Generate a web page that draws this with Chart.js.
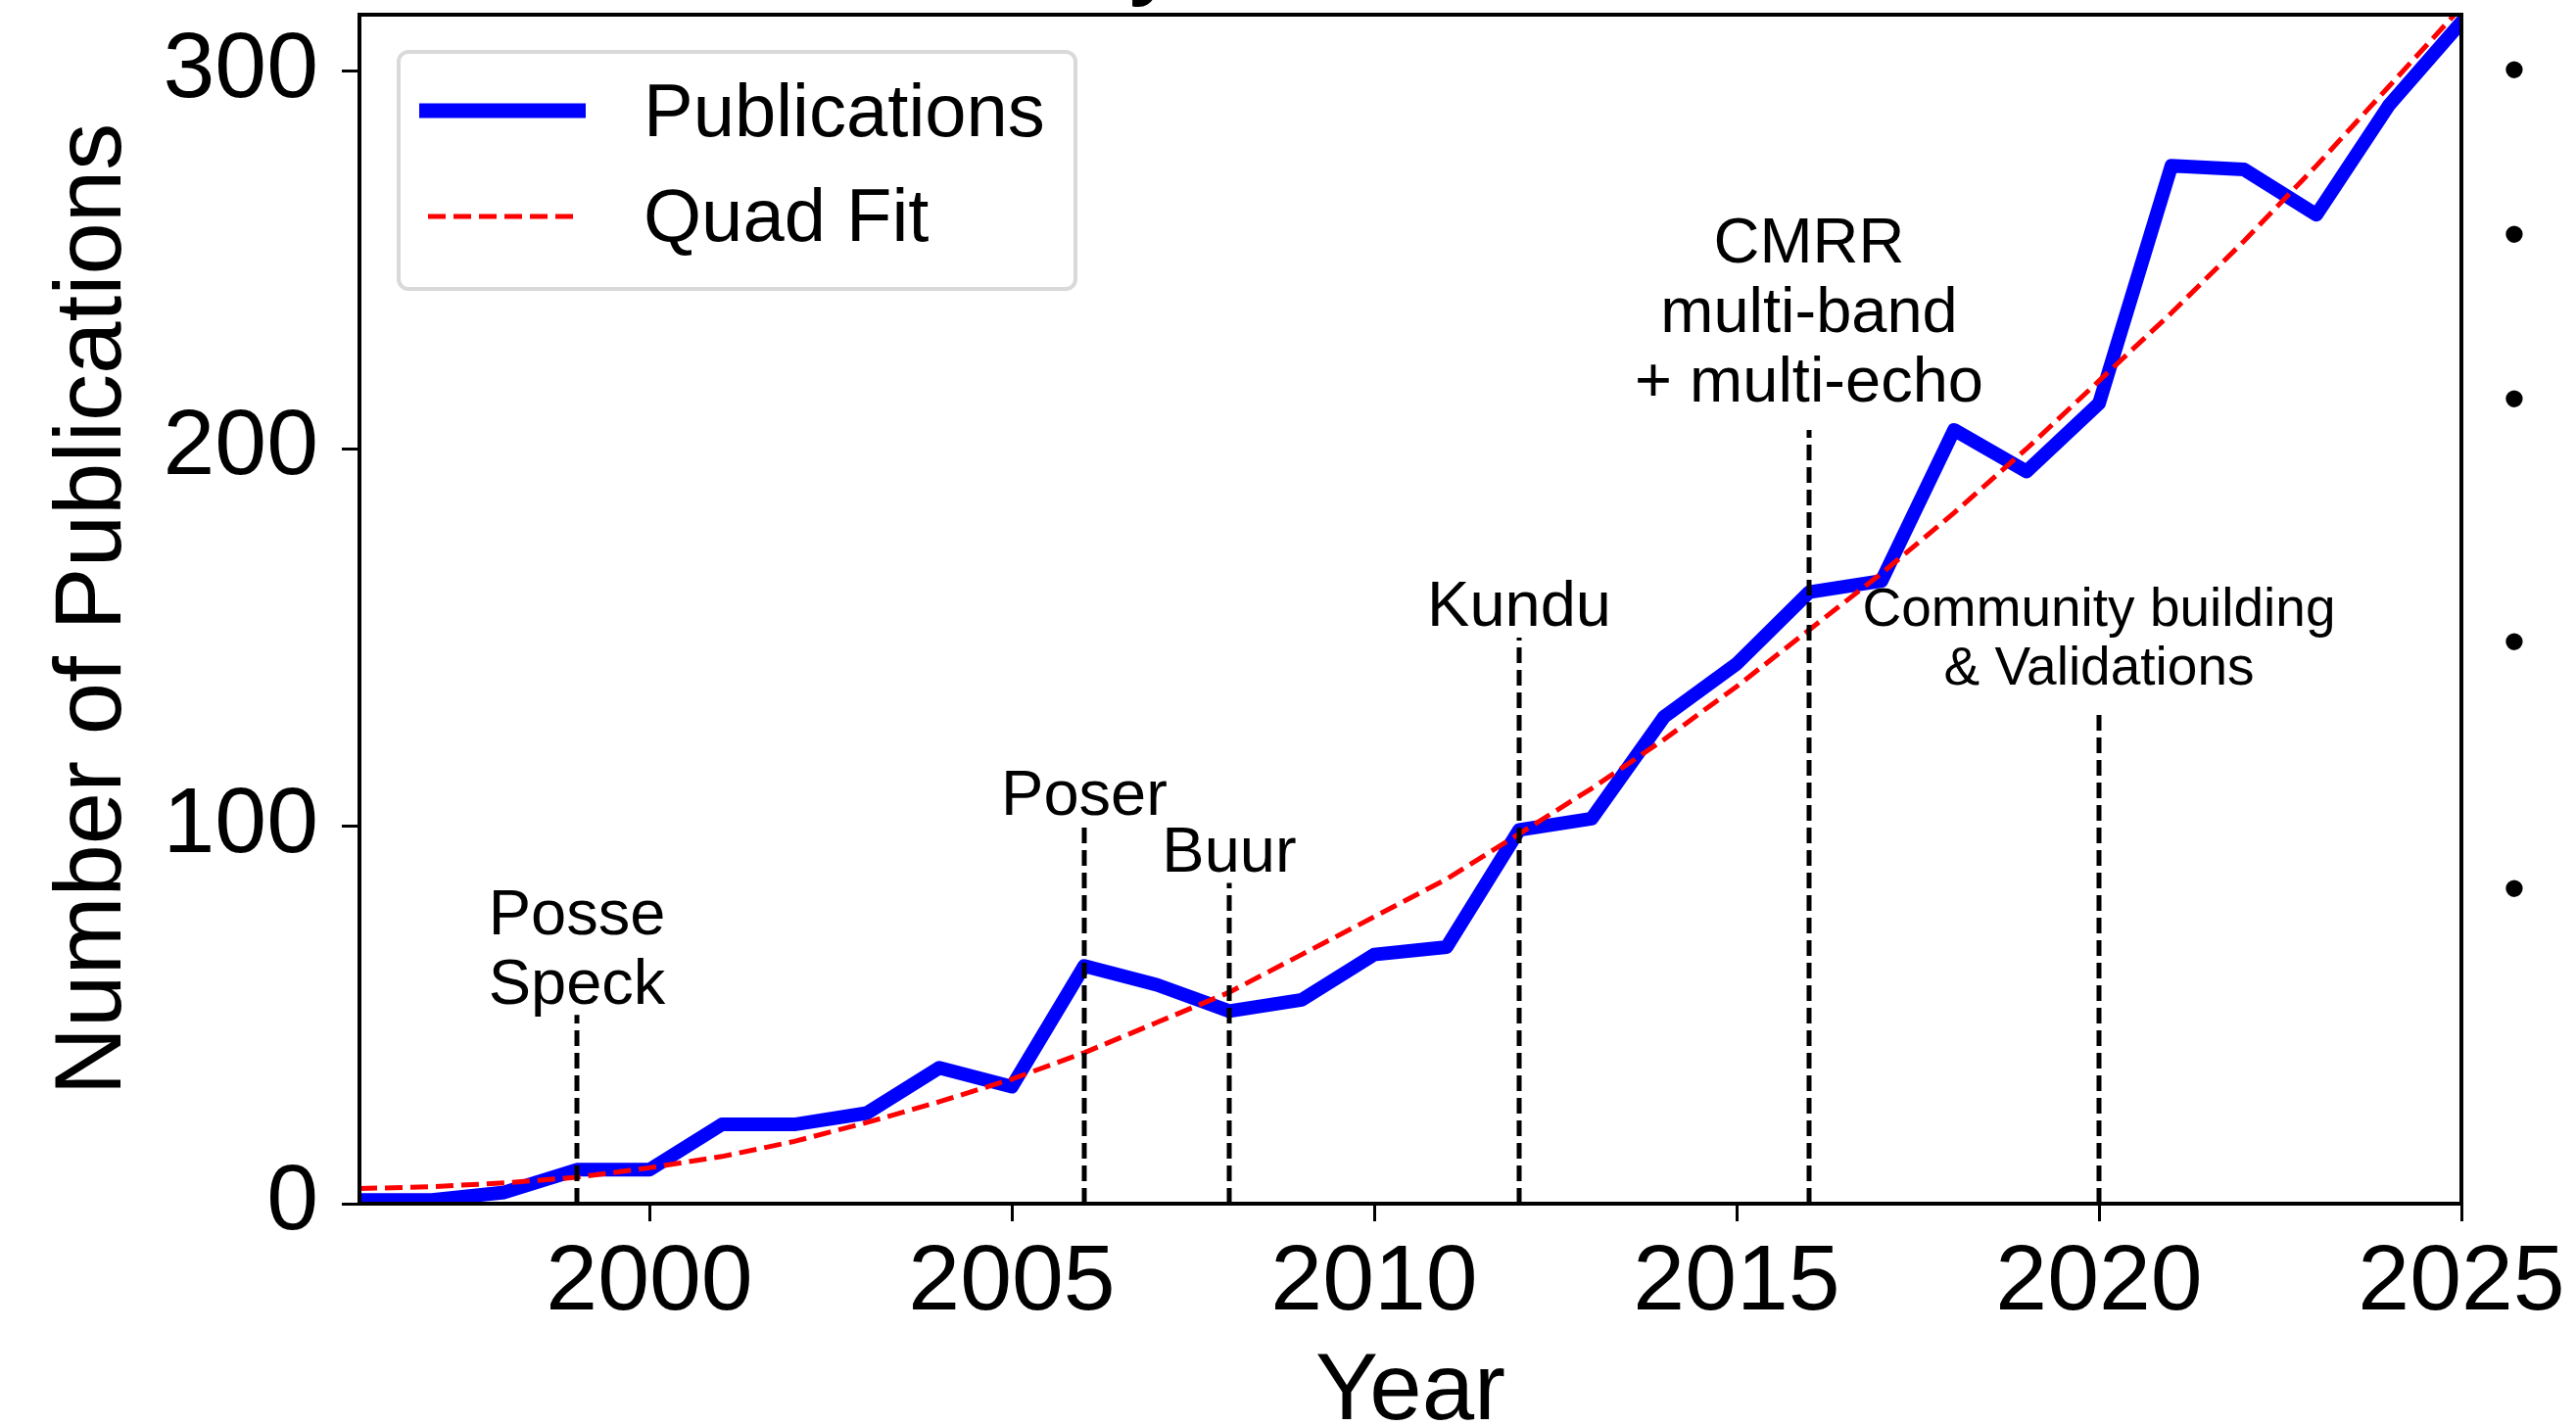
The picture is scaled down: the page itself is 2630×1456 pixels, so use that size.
<!DOCTYPE html>
<html>
<head>
  <title>Publications per Year</title>
  <script src="https://cdn.jsdelivr.net/npm/chart.js@4.4.1/dist/chart.umd.min.js"></script>
  <style>
    html, body { margin: 0; padding: 0; background: #fff; }
    #wrap { width: 2630px; height: 1456px; }
  </style>
</head>
<body>
<div id="wrap"><canvas id="myChart" width="2630" height="1456"></canvas></div>
<script>
  // Values
  const years = [1996, 1997, 1998, 1999, 2000, 2001, 2002, 2003, 2004, 2005,
                 2006, 2007, 2008, 2009, 2010, 2011, 2012, 2013, 2014, 2015,
                 2016, 2017, 2018, 2019, 2020, 2021, 2022, 2023, 2024, 2025];
  const publications = [1, 1, 3, 9, 9, 21, 21, 24, 36, 31,
                        63, 58, 51, 54, 66, 68, 99, 102, 129, 143,
                        162, 165, 205, 194, 212, 275, 274, 262, 291, 313];
  const quadFit = [4, 4.5, 5.5, 7, 9.5, 12.5, 16.5, 21.5, 27, 33,
                   40, 48, 56, 66, 76, 86, 98, 110, 123, 137,
                   152, 167, 183, 200, 218, 236, 255, 275, 296, 317];

  // milestone markers (year, height of the dashed line, label, label baseline)
  const eventYears = [1999, 2006, 2008, 2012, 2016, 2020];
  const eventTops = [50, 100, 85, 150, 205, 130];
  const eventLabels = [['Posse', 'Speck'], ['Poser'], ['Buur'], ['Kundu'],
                       ['CMRR', 'multi-band', '+ multi-echo'],
                       ['Community building', '& Validations']];
  const eventLabelY = [53, 103, 88, 153, 212.5, 137.5];

  const xTicks = [2000, 2005, 2010, 2015, 2020, 2025];
  const yTicks = [0, 100, 200, 300];

  const FONT = '"Liberation Sans", Arial, Helvetica, sans-serif';

  const pubPoints = years.map((yr, i) => ({ x: yr, y: publications[i] }));
  const fitPoints = years.map((yr, i) => ({ x: yr, y: quadFit[i] }));

  const eventSets = eventYears.map((yr, i) => ({
    label: 'event ' + yr,
    data: [{ x: yr, y: 0 }, { x: yr, y: eventTops[i] }],
    borderColor: '#000000',
    borderWidth: 5,
    borderDash: [16, 7],
    pointRadius: 0,
    clip: 0,
    order: 0
  }));

  // texts, legend and frame drawn on top of the lines
  const overlay = {
    id: 'overlay',
    afterDatasetsDraw(chart) {
      const { ctx, chartArea: a, scales } = chart;
      const xs = scales.x, ys = scales.y;
      ctx.save();

      // frame
      ctx.strokeStyle = '#000';
      ctx.lineWidth = 4;
      ctx.setLineDash([]);
      ctx.strokeRect(a.left, a.top, a.right - a.left, a.bottom - a.top);

      // milestone labels
      ctx.fillStyle = '#000';
      ctx.textAlign = 'center';
      ctx.textBaseline = 'alphabetic';
      eventLabels.forEach((lines, i) => {
        const size = lines[0].length > 10 ? 55 : 65;
        const step = Math.round(size * 1.09);
        ctx.font = size + 'px ' + FONT;
        const px = xs.getPixelForValue(eventYears[i]);
        const base = ys.getPixelForValue(eventLabelY[i]);
        lines.forEach((t, j) => {
          ctx.fillText(t, px, base - (lines.length - 1 - j) * step);
        });
      });

      // legend
      const lx = 407, ly = 53, lw = 691, lh = 242, r = 10;
      ctx.beginPath();
      ctx.moveTo(lx + r, ly);
      ctx.arcTo(lx + lw, ly, lx + lw, ly + lh, r);
      ctx.arcTo(lx + lw, ly + lh, lx, ly + lh, r);
      ctx.arcTo(lx, ly + lh, lx, ly, r);
      ctx.arcTo(lx, ly, lx + lw, ly, r);
      ctx.closePath();
      ctx.fillStyle = 'rgba(255,255,255,0.85)';
      ctx.fill();
      ctx.strokeStyle = '#d9d9d9';
      ctx.lineWidth = 4;
      ctx.stroke();

      ctx.lineCap = 'butt';
      ctx.strokeStyle = '#0000ff';
      ctx.lineWidth = 15;
      ctx.beginPath(); ctx.moveTo(428, 113); ctx.lineTo(598, 113); ctx.stroke();
      ctx.strokeStyle = '#ff0000';
      ctx.lineWidth = 5;
      ctx.setLineDash([18, 8]);
      ctx.beginPath(); ctx.moveTo(437, 221); ctx.lineTo(590, 221); ctx.stroke();
      ctx.setLineDash([]);

      ctx.fillStyle = '#000';
      ctx.textAlign = 'left';
      ctx.textBaseline = 'middle';
      ctx.font = '76px ' + FONT;
      ctx.fillText('Publications', 657, 118);
      ctx.fillText('Quad Fit', 657, 225);

      // axis titles
      ctx.font = '96px ' + FONT;
      ctx.textAlign = 'center';
      ctx.textBaseline = 'alphabetic';
      ctx.fillText('Year', (a.left + a.right) / 2, 1449);
      ctx.save();
      ctx.translate(123, (a.top + a.bottom) / 2);
      ctx.rotate(-Math.PI / 2);
      ctx.fillText('Number of Publications', 0, 0);
      ctx.restore();

      // clipped pieces of neighbouring text
      ctx.font = '110px ' + FONT;
      ctx.fillText('y', 1180, -16);
      ctx.font = '64px ' + FONT;
      ctx.textBaseline = 'middle';
      [75, 243, 411, 659, 911].forEach(yy => ctx.fillText('•', 2567, yy));

      ctx.restore();
    }
  };

  new Chart(document.getElementById('myChart'), {
    type: 'line',
    data: {
      datasets: [
        ...eventSets,
        {
          label: 'Quad Fit',
          data: fitPoints,
          borderColor: '#ff0000',
          borderWidth: 5,
          borderDash: [18, 8],
          pointRadius: 0,
          tension: 0,
          clip: 0,
          order: 1
        },
        {
          label: 'Publications',
          data: pubPoints,
          borderColor: '#0000ff',
          borderWidth: 14,
          borderJoinStyle: 'round',
          borderCapStyle: 'square',
          pointRadius: 0,
          tension: 0,
          clip: 0,
          order: 2
        }
      ]
    },
    options: {
      responsive: false,
      animation: false,
      layout: { padding: { left: 0, right: 117, top: 15, bottom: 0 } },
      plugins: { legend: { display: false }, tooltip: { enabled: false } },
      scales: {
        x: {
          type: 'linear',
          min: 1996,
          max: 2025,
          afterBuildTicks: s => { s.ticks = xTicks.map(v => ({ value: v })); },
          afterFit: s => { s.height = 227; s.paddingLeft = 0; s.paddingRight = 0; },
          border: { display: false },
          grid: { drawOnChartArea: false, drawTicks: true, tickLength: 18, tickWidth: 3, tickColor: '#000' },
          ticks: {
            color: '#000',
            font: { family: FONT, size: 95, lineHeight: 1 },
            padding: 16,
            maxRotation: 0,
            autoSkip: false,
            callback: v => String(v)
          }
        },
        y: {
          min: 0,
          max: 315,
          afterBuildTicks: s => { s.ticks = yTicks.map(v => ({ value: v })); },
          afterFit: s => { s.width = 367; s.paddingTop = 0; s.paddingBottom = 0; },
          border: { display: false },
          grid: { drawOnChartArea: false, drawTicks: true, tickLength: 18, tickWidth: 3, tickColor: '#000' },
          ticks: {
            color: '#000',
            font: { family: FONT, size: 95, lineHeight: 1 },
            padding: 24,
            callback: v => String(v)
          }
        }
      }
    },
    plugins: [overlay]
  });
</script>
</body>
</html>
